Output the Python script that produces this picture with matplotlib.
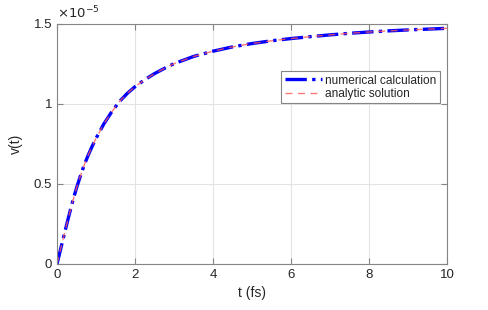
import numpy as np
import matplotlib
matplotlib.use("Agg")
import matplotlib.pyplot as plt
from matplotlib.ticker import FuncFormatter

# values (v in units of 1e-5)
t = [0, 0.1, 0.2, 0.3, 0.4, 0.5, 0.6, 0.7, 0.8, 0.9, 1.0, 1.2, 1.4, 1.6,
     1.8, 2.0, 2.25, 2.5, 2.75, 3.0, 3.5, 4.0, 4.5, 5.0, 5.5, 6.0, 6.5,
     7.0, 7.5, 8.0, 8.5, 9.0, 9.5, 10.0]
v_scaled = [0, 0.10, 0.20, 0.297, 0.39, 0.475, 0.55, 0.62, 0.68, 0.735,
            0.785, 0.875, 0.95, 1.015, 1.066, 1.108, 1.152, 1.19, 1.222,
            1.252, 1.297, 1.33, 1.357, 1.378, 1.395, 1.409, 1.421, 1.432,
            1.442, 1.45, 1.457, 1.463, 1.468, 1.473]
SCALE = 1e-5
v = np.array(v_scaled) * SCALE

x_ticks = [0, 2, 4, 6, 8, 10]
y_ticks = [0, 0.5e-5, 1.0e-5, 1.5e-5]

plt.rcParams['font.family'] = ['Liberation Sans', 'DejaVu Sans']
txt = '#262626'
edge = '#858585'

fig = plt.figure(figsize=(4.88, 3.10), dpi=100)
ax = fig.add_axes([57/488, 1-264/310, 390/488, 240/310])

ax.plot(t, v, color='#0000ff', linestyle='-.', linewidth=2.4,
        label='numerical calculation')
ax.plot(t, v, color='#ff5555', linestyle=(0, (5, 4)), linewidth=1.0,
        label='analytic solution', alpha=0.8)

ax.set_xlim(0, 10)
ax.set_ylim(0, 1.5e-5)
ax.set_xticks(x_ticks)
ax.set_yticks(y_ticks)
ax.yaxis.set_major_formatter(FuncFormatter(lambda y, _: f'{y/SCALE:g}'))

ax.grid(True, color='#e3e3e3', linewidth=0.8)
ax.set_axisbelow(True)
for s in ax.spines.values():
    s.set_color(edge)
    s.set_linewidth(0.8)
ax.tick_params(direction='in', length=4, width=0.8, color=edge,
               labelcolor=txt, labelsize=9.5, top=True, right=True)

ax.set_xlabel('t (fs)', fontsize=10, color=txt, labelpad=4)
ax.set_ylabel('v(t)', fontsize=10, color=txt, labelpad=8)
ax.text(0.0, 1.012, r'$\times10^{-5}$', transform=ax.transAxes,
        fontsize=9.5, color=txt, ha='left', va='bottom')

leg = ax.legend(loc='upper right', bbox_to_anchor=(0.982, 0.804),
                fontsize=8.6, handlelength=3.1, handletextpad=0.3,
                borderpad=0.3, labelspacing=0.1, fancybox=False,
                framealpha=1, edgecolor=edge, borderaxespad=0)
for tx in leg.get_texts():
    tx.set_color(txt)
leg.get_frame().set_linewidth(0.8)

fig.savefig('out.png', dpi=100)
